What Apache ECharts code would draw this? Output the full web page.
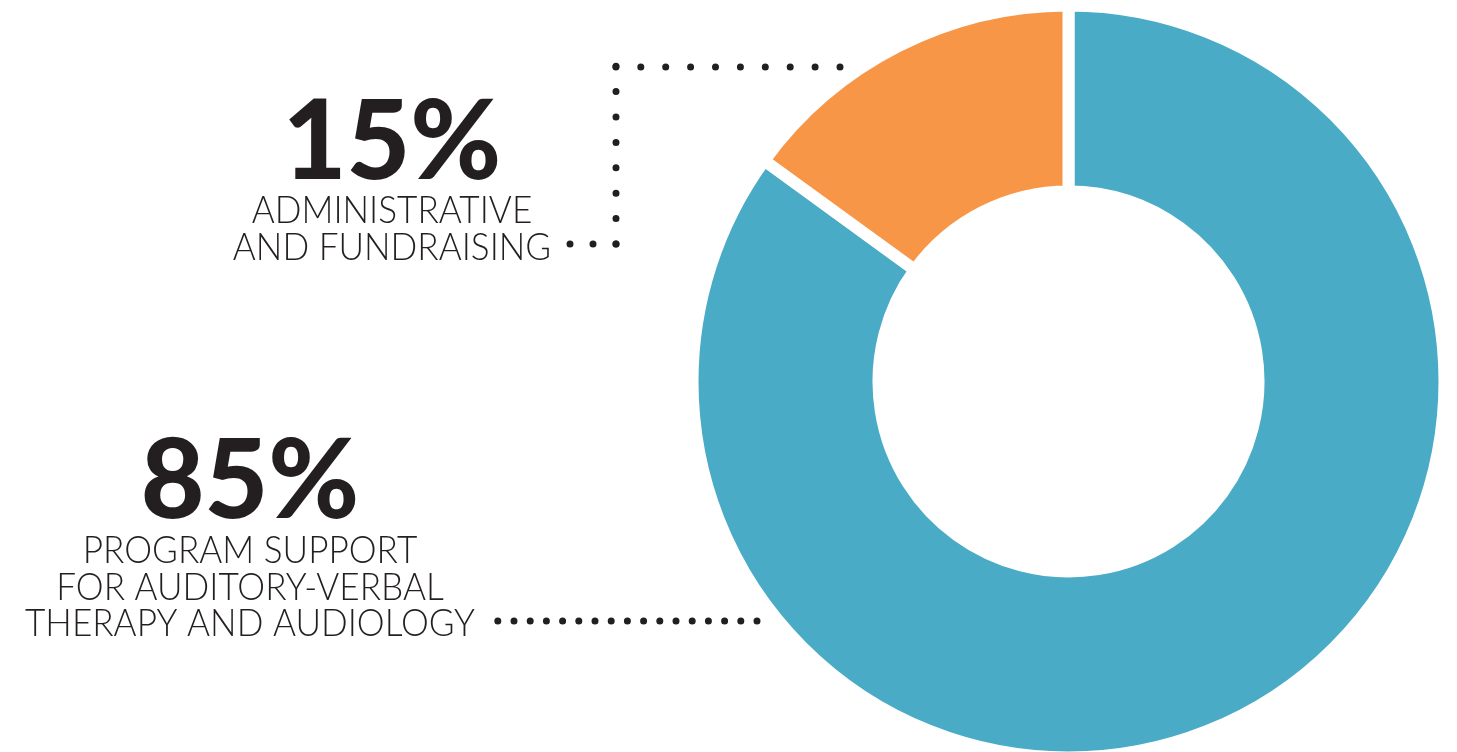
<!DOCTYPE html>
<html>
<head>
<meta charset="utf-8">
<script src="https://cdn.jsdelivr.net/npm/echarts@6/dist/echarts.min.js"></script>
<style>
html,body{margin:0;padding:0;background:#fff;}
#chart{width:1457px;height:752px;}
</style>
</head>
<body>
<div id="chart"></div>
<script>
// ---- data ----
const categories = ['PROGRAM SUPPORT\nFOR AUDITORY-VERBAL\nTHERAPY AND AUDIOLOGY', 'ADMINISTRATIVE\nAND FUNDRAISING'];
const values = [85, 15];
const colors = ['#4aabc6', '#f79646'];

// ---- layout (annotation placement only) ----
const ink = '#231f20';
const labelLayout = [
  { cx: 250, numY: 483, numSize: 110, textY: 533, lineH: 36.5, textSize: 37, scaleX: 0.95,
    dots: [ { pts: [[757, 621], [497.5, 621]], gap: 16.2 } ] },
  { cx: 392, numY: 144, numSize: 110, textY: 193, lineH: 36.7, textSize: 37, scaleX: 0.95,
    dots: [ { pts: [[840, 67], [615.5, 67]], gap: 24.9 },
            { pts: [[616, 244], [616, 66]], gap: 25.4 },
            { pts: [[616, 244], [569.5, 244]], gap: 23 } ] }
];

const graphic = [];
values.forEach(function (v, i) {
  const L = labelLayout[i];
  graphic.push({
    type: 'text', x: L.cx, y: L.numY,
    style: { text: v + '%', font: '900 ' + L.numSize + 'px Lato', fill: ink, align: 'center', verticalAlign: 'middle' }
  });
  graphic.push({
    type: 'text', x: L.cx, y: L.textY, scaleX: L.scaleX,
    style: { text: categories[i], font: '300 ' + L.textSize + 'px Lato', lineHeight: L.lineH, fill: ink, align: 'center', verticalAlign: 'top' }
  });
  L.dots.forEach(function (d) {
    graphic.push({
      type: 'polyline', shape: { points: d.pts },
      style: { stroke: ink, lineWidth: 7, lineCap: 'round', lineDash: [0, d.gap], fill: null }
    });
  });
});

const chart = echarts.init(document.getElementById('chart'), null, { renderer: 'canvas' });
chart.setOption({
  backgroundColor: '#fff',
  animation: false,
  series: [{
    type: 'pie',
    center: [1068.5, 381.5],
    radius: [190, 376],
    startAngle: 90,
    clockwise: true,
    label: { show: false },
    labelLine: { show: false },
    emphasis: { disabled: true },
    itemStyle: { borderColor: '#fff', borderWidth: 12 },
    data: values.map(function (v, i) {
      return { value: v, name: categories[i].replace(/\n/g, ' '), itemStyle: { color: colors[i] } };
    })
  }],
  graphic: graphic
});
</script>
</body>
</html>
